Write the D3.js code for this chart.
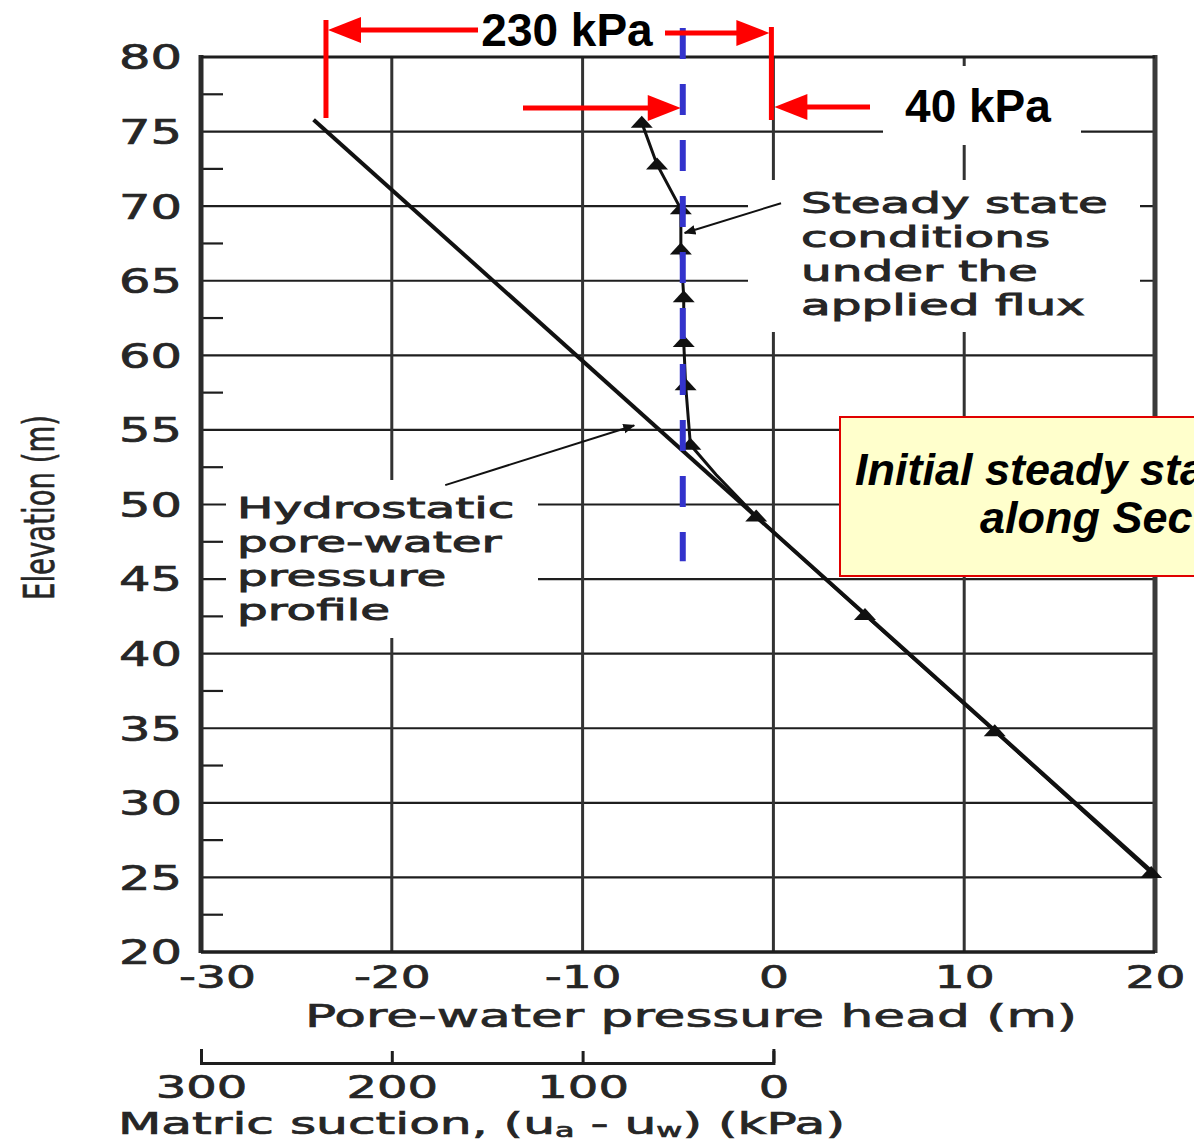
<!DOCTYPE html>
<html>
<head>
<meta charset="utf-8">
<script src="https://cdn.jsdelivr.net/npm/d3@7"></script>
<style>
  body { margin: 0; background: #fff; }
  svg { font-family: 'DejaVu Sans', sans-serif; }
</style>
</head>
<body>
<svg id="chart" width="1194" height="1142"></svg>
<script>
// ---- data ----
const headTicks = [-30, -20, -10, 0, 10, 20];
const elevTicks = [20, 25, 30, 35, 40, 45, 50, 55, 60, 65, 70, 75, 80];
const elevMinor = [22.5, 27.5, 32.5, 37.5, 42.5, 47.5, 52.5, 57.5, 62.5, 67.5, 72.5, 77.5];
const suctionTicks = [300, 200, 100, 0];

const hydroHead = [-24.1, 20.0];
const hydroElev = [75.8, 25.2];

const steadyHead = [-6.9, -6.1, -4.85, -4.85, -4.7, -4.7, -4.6, -4.35, -3.0, -0.9, 4.8, 11.6, 19.8];
const steadyElev = [75.6, 72.8, 69.8, 67.1, 63.9, 60.9, 58.0, 54.0, 52.0, 49.2, 42.6, 34.8, 25.3];
const steadyMark = [1, 1, 1, 1, 1, 1, 1, 1, 0, 1, 1, 1, 1];

const steadyLabel = ['Steady state', 'conditions', 'under the', 'applied flux'];
const hydroLabel = ['Hydrostatic', 'pore-water', 'pressure', 'profile'];

const limitHead = -23.45;   // 230 kPa
const fluxHead = -4.75;     // steady suction line
const zeroHead = 0;

const svg = d3.select('#chart');
const W = 1194, H = 1142;
svg.append('rect').attr('width', W).attr('height', H).attr('fill', '#fff');

const x = d3.scaleLinear().domain([-30, 20]).range([201, 1155]);
const y = d3.scaleLinear().domain([20, 80]).range([952, 57]);
const xs = d3.scaleLinear().domain([300, 0]).range([x(-30), x(0)]);

const ink = '#1e1e1e';
const textInk = '#262626';
const STRETCH = 1.47;

// stretch the figure's wide lettering horizontally
const place = (t, L, anchor) => {
  const x0 = +t.attr('x') || 0;
  t.attr('text-anchor', 'start')
    .attr('textLength', L)
    .attr('lengthAdjust', 'spacingAndGlyphs')
    .attr('x', anchor === 'end' ? x0 - L : anchor === 'middle' ? x0 - L / 2 : x0);
};
const fitText = (sel, k, anchor) => {
  sel.each(function() { place(d3.select(this), this.getComputedTextLength() * k, anchor); });
};
const fitWidth = (sel, width, anchor) => {
  sel.each(function() { place(d3.select(this), width, anchor); });
};
const figStyle = (sel, size) => {
  sel.attr('font-size', size).attr('fill', textInk)
    .attr('stroke', textInk).attr('stroke-width', 0.7)
    .attr('font-family', 'DejaVu Sans');
};

// ---- grid ----
const grid = svg.append('g');
grid.selectAll('line.h')
  .data(elevTicks.filter(d => d > 20 && d < 80))
  .join('line')
  .attr('x1', x(-30)).attr('x2', x(20))
  .attr('y1', d => y(d)).attr('y2', d => y(d))
  .attr('stroke', ink).attr('stroke-width', 2.2);
grid.selectAll('line.v')
  .data(headTicks.filter(d => d > -30 && d < 20))
  .join('line')
  .attr('x1', d => x(d)).attr('x2', d => x(d))
  .attr('y1', y(80)).attr('y2', y(20))
  .attr('stroke', '#333').attr('stroke-width', 3);
grid.selectAll('line.m')
  .data(elevMinor)
  .join('line')
  .attr('x1', x(-30)).attr('x2', x(-30) + 22)
  .attr('y1', d => y(d)).attr('y2', d => y(d))
  .attr('stroke', ink).attr('stroke-width', 2.2);

// white patches behind the original labels
svg.append('rect').attr('x', 748).attr('y', 180).attr('width', 392).attr('height', 152).attr('fill', '#fff');
svg.append('rect').attr('x', 226).attr('y', 480).attr('width', 312).attr('height', 158).attr('fill', '#fff');
svg.append('rect').attr('x', 883).attr('y', 66).attr('width', 198).attr('height', 79).attr('fill', '#fff');

// ---- frame ----
svg.append('line').attr('x1', x(-30)).attr('x2', x(-30)).attr('y1', y(80) - 2).attr('y2', y(20) + 1)
  .attr('stroke', '#2a2a2a').attr('stroke-width', 5);
svg.append('line').attr('x1', x(20)).attr('x2', x(20)).attr('y1', y(80) - 2).attr('y2', y(20) + 1)
  .attr('stroke', '#3a3a3a').attr('stroke-width', 5);
svg.append('line').attr('x1', x(-30)).attr('x2', x(20)).attr('y1', y(80)).attr('y2', y(80))
  .attr('stroke', ink).attr('stroke-width', 3);
svg.append('line').attr('x1', x(-30)).attr('x2', x(20)).attr('y1', y(20)).attr('y2', y(20))
  .attr('stroke', ink).attr('stroke-width', 3.5);

// ---- axes ----
const yAxis = svg.append('g')
  .attr('transform', `translate(${x(-30)},0)`)
  .call(d3.axisLeft(y).tickValues(elevTicks).tickSize(0).tickPadding(19));
yAxis.select('.domain').remove();
yAxis.selectAll('text')
  .call(figStyle, 33)
  .attr('dy', '0.36em')
  .call(fitText, 1.5, 'end');

const xAxis = svg.append('g')
  .attr('transform', `translate(0,${y(20)})`)
  .call(d3.axisBottom(x).tickValues(headTicks).tickSize(0).tickFormat(d3.format('d')));
xAxis.select('.domain').remove();
xAxis.selectAll('text')
  .call(figStyle, 32)
  .attr('y', 36).attr('dy', 0)
  .attr('dx', d => (d === -30 ? 16 : 0))
  .text(d => (d < 0 ? '-' + Math.abs(d) : d))
  .call(fitText, STRETCH, 'middle');

svg.append('text')
  .attr('x', 305).attr('y', 1027)
  .call(figStyle, 32)
  .text('Pore-water pressure head  (m)')
  .call(fitWidth, 772, 'start');

// matric suction axis
const sAxis = svg.append('g')
  .attr('transform', 'translate(0,1063)')
  .call(d3.axisBottom(xs).tickValues(suctionTicks).tickSizeInner(-12).tickSizeOuter(-14).tickFormat(d3.format('d')));
sAxis.select('.domain').attr('stroke', ink).attr('stroke-width', 3);
sAxis.selectAll('.tick line').attr('stroke', ink).attr('stroke-width', 3);
sAxis.selectAll('text')
  .call(figStyle, 32)
  .attr('y', 35).attr('dy', 0)
  .call(fitText, 1.5, 'middle');

const sTitle = svg.append('text')
  .attr('x', 118).attr('y', 1134)
  .call(figStyle, 30);
sTitle.append('tspan').text('Matric suction, (u');
sTitle.append('tspan').attr('font-size', 19).attr('dy', 3).text('a');
sTitle.append('tspan').attr('dy', -3).text(' - u');
sTitle.append('tspan').attr('font-size', 19).attr('dy', 3).text('w');
sTitle.append('tspan').attr('dy', -3).text(') (kPa)');
sTitle.call(fitWidth, 727, 'start');

svg.append('text')
  .attr('transform', `translate(54,${(415 + 600) / 2}) rotate(-90) scale(1,1.55)`)
  .call(figStyle, 28)
  .attr('stroke-width', 0.4)
  .text('Elevation  (m)')
  .call(fitWidth, 185, 'middle');

// ---- curves ----
const line = d3.line().x(d => x(d[0])).y(d => y(d[1]));
const hydro = d3.zip(hydroHead, hydroElev);
const steady = d3.zip(steadyHead, steadyElev);

svg.append('path').datum(hydro).attr('d', line)
  .attr('fill', 'none').attr('stroke', '#111').attr('stroke-width', 4);
svg.append('path').datum(steady).attr('d', line)
  .attr('fill', 'none').attr('stroke', '#111').attr('stroke-width', 3);

svg.selectAll('path.mark')
  .data(steady.filter((d, i) => steadyMark[i]))
  .join('path')
  .attr('class', 'mark')
  .attr('transform', d => `translate(${x(d[0])},${y(d[1])})`)
  .attr('d', 'M-11,5 L11,5 L0,-7 Z')
  .attr('fill', '#111');

// ---- original annotations ----
svg.append('defs').append('marker')
  .attr('id', 'tip').attr('viewBox', '0 0 10 10').attr('refX', 9).attr('refY', 5)
  .attr('markerWidth', 6).attr('markerHeight', 6).attr('orient', 'auto')
  .append('path').attr('d', 'M0,1 L10,5 L0,9 Z').attr('fill', '#111');

svg.append('line')
  .attr('x1', x(0.4)).attr('y1', y(70.2)).attr('x2', x(-4.65)).attr('y2', y(68.2))
  .attr('stroke', '#111').attr('stroke-width', 2).attr('marker-end', 'url(#tip)');
svg.append('line')
  .attr('x1', x(-17.2)).attr('y1', y(51.3)).attr('x2', x(-7.3)).attr('y2', y(55.3))
  .attr('stroke', '#111').attr('stroke-width', 2).attr('marker-end', 'url(#tip)');

svg.append('g').selectAll('text')
  .data(steadyLabel)
  .join('text')
  .attr('x', 801).attr('y', (d, i) => 213 + i * 34)
  .call(figStyle, 29)
  .attr('stroke-width', 0.9)
  .text(d => d)
  .call(fitText, 1.67, 'start');

svg.append('g').selectAll('text')
  .data(hydroLabel)
  .join('text')
  .attr('x', 237).attr('y', (d, i) => 518 + i * 34)
  .call(figStyle, 29)
  .attr('stroke-width', 0.9)
  .text(d => d)
  .call(fitText, 1.67, 'start');

// ---- overlays: suction limits ----
const red = '#ff0000';
const redArrow = (x1, x2, yy) => {
  const dir = Math.sign(x2 - x1);
  svg.append('line').attr('x1', x1).attr('x2', x2 - dir * 28).attr('y1', yy).attr('y2', yy)
    .attr('stroke', red).attr('stroke-width', 5);
  svg.append('path')
    .attr('d', `M${x2},${yy} L${x2 - dir * 33},${yy - 13} L${x2 - dir * 33},${yy + 13} Z`)
    .attr('fill', red);
};

svg.append('line').attr('x1', x(limitHead)).attr('x2', x(limitHead)).attr('y1', 20).attr('y2', 118)
  .attr('stroke', red).attr('stroke-width', 5);
svg.append('line').attr('x1', x(zeroHead) - 2).attr('x2', x(zeroHead) - 2).attr('y1', 27).attr('y2', 120)
  .attr('stroke', red).attr('stroke-width', 5);

svg.append('line')
  .attr('x1', x(fluxHead)).attr('x2', x(fluxHead))
  .attr('y1', 28).attr('y2', y(46.2))
  .attr('stroke', '#3333cc').attr('stroke-width', 6)
  .attr('stroke-dasharray', '31,25');

redArrow(478, x(limitHead) + 2, 30);
redArrow(665, x(zeroHead) - 4, 33);
redArrow(523, x(fluxHead) - 2, 108);
redArrow(870, x(zeroHead) + 1, 107);

const kpa = svg.append('g')
  .style('font-family', 'Liberation Sans, Arial, sans-serif')
  .attr('font-weight', 'bold').attr('font-size', 46).attr('fill', '#000')
  .attr('text-anchor', 'middle');
kpa.append('text').attr('x', 567).attr('y', 46).text('230 kPa');
kpa.append('text').attr('x', 978).attr('y', 122).text('40 kPa');

// ---- callout box (runs past the right edge, as in the source) ----
svg.append('rect')
  .attr('x', 840).attr('y', 417).attr('width', 420).attr('height', 159)
  .attr('fill', '#ffffcc').attr('stroke', '#e00000').attr('stroke-width', 2);
const callout = svg.append('g')
  .style('font-family', 'Liberation Sans, Arial, sans-serif')
  .attr('font-weight', 'bold').attr('font-style', 'italic').attr('font-size', 45)
  .attr('fill', '#000');
callout.append('text').attr('x', 855).attr('y', 485).text('Initial steady state');
callout.append('text').attr('x', 980).attr('y', 533).text('along Section');
</script>
</body>
</html>
